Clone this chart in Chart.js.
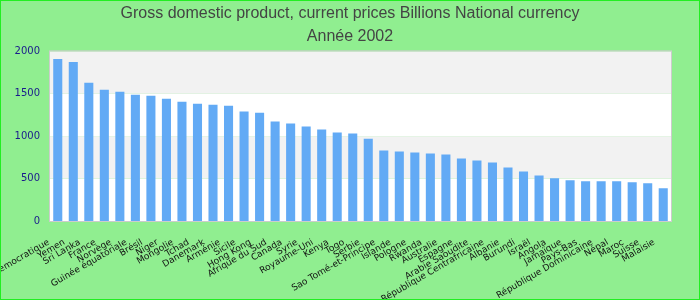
<!DOCTYPE html>
<html>
<head>
<meta charset="utf-8">
<script src="https://cdn.jsdelivr.net/npm/chart.js@4"></script>
<style>
	html, body { margin: 0; padding: 0; }
	#box {
		width: 700px;
		height: 300px;
		box-sizing: border-box;
		border: 1px solid #22ee22;
		background: #90ee90;
	}
	canvas { display: block; }
</style>
</head>
<body>
<div id="box"><canvas id="chart" width="698" height="298"></canvas></div>
<script>
"use strict";

const countries = [
	"Congo, République démocratique", "Yemen", "Sri Lanka", "France", "Norvège",
	"Guinée équatoriale", "Brésil", "Niger", "Mongolie", "Tchad",
	"Danemark", "Arménie", "Sicile", "Hong Kong", "Afrique du Sud",
	"Canada", "Syrie", "Royaume-Uni", "Kenya", "Togo",
	"Serbie", "Sao Tomé-et-Principe", "Islande", "Pologne", "Rwanda",
	"Australie", "Espagne", "Arabie Saoudite", "République Centrafricaine", "Albanie",
	"Burundi", "Israël", "Angola", "Jamaïque", "Pays-Bas",
	"République Dominicaine", "Népal", "Maroc", "Suisse", "Malaisie",
];

const gdp = [
	1910, 1875, 1629, 1547, 1524,
	1489, 1477, 1442, 1407, 1384,
	1372, 1360, 1290, 1278, 1173,
	1150, 1115, 1080, 1044, 1033,
	971, 830, 819, 807, 795,
	784, 737, 713, 690, 632,
	585, 538, 503, 480, 468,
	468, 468, 456, 444, 386,
];

const titleLines = [
	"Gross domestic product, current prices Billions National currency",
	"Année 2002",
];

const yTicks = [0, 500, 1000, 1500, 2000];

// alternating bands behind the bars, plus the grey frame of the plot area
const bandsPlugin = {
	id: "bands",
	beforeDraw(chart) {
		const ctx = chart.ctx;
		const area = chart.chartArea;
		const y = chart.scales.y;
		ctx.save();
		for (let i = 0; i < yTicks.length - 1; ++i) {
			const top = y.getPixelForValue(yTicks[i + 1]);
			const bottom = y.getPixelForValue(yTicks[i]);
			ctx.fillStyle = (i % 2 === 1) ? "#f2f2f2" : "#ffffff";
			ctx.fillRect(area.left, top, area.right - area.left, bottom - top);
		}
		ctx.strokeStyle = "#cccccc";
		ctx.lineWidth = 1;
		ctx.strokeRect(area.left - 0.5, area.top - 0.5, area.right - area.left + 1, area.bottom - area.top + 1);
		ctx.restore();
	},
};

const chart = new Chart(document.getElementById("chart"), {
	type: "bar",
	data: {
		labels: countries,
		datasets: [
			{
				data: gdp,
				backgroundColor: "#62aaf5",
				borderWidth: 0,
				categoryPercentage: 0.8,
				barPercentage: 0.73,
			},
		],
	},
	options: {
		responsive: false,
		animation: false,
		layout: {
			padding: 0,
		},
		plugins: {
			legend: { display: false },
			tooltip: { enabled: false },
			title: {
				display: true,
				text: titleLines,
				color: "#444444",
				font: { family: "'Liberation Sans', Arial, sans-serif", size: 16, weight: "normal", lineHeight: 1.45 },
				padding: { top: 1, bottom: 3 },
			},
		},
		scales: {
			x: {
				grid: { display: false, drawTicks: false },
				border: { display: false },
				ticks: {
					autoSkip: false,
					minRotation: 30,
					maxRotation: 30,
					color: "#111111",
					padding: 16,
					labelOffset: -9,
					font: { family: "'DejaVu Sans', sans-serif", size: 9 },
				},
				afterFit(scale) {
					// keep the plot where it is, long labels may run off the left edge
					scale.paddingLeft = 0;
					scale.paddingRight = 28;
					scale.height = 78;
				},
			},
			y: {
				min: 0,
				max: 2000,
				grid: { display: false, drawTicks: false },
				border: { display: false },
				ticks: {
					stepSize: 500,
					color: "#1a1a8c",
					padding: 10,
					font: { family: "'DejaVu Sans', sans-serif", size: 10 },
					callback: (value) => String(value),
				},
				afterFit(scale) {
					scale.width = 49;
				},
			},
		},
	},
	plugins: [bandsPlugin],
});
</script>
</body>
</html>
